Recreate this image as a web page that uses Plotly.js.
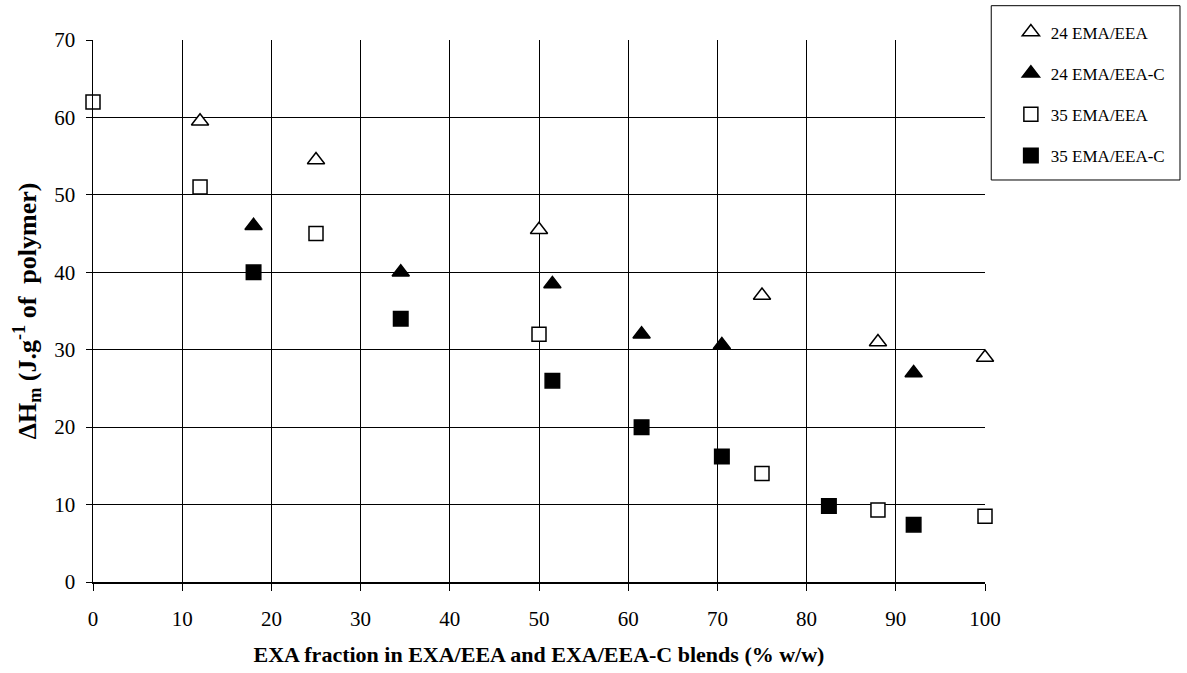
<!DOCTYPE html>
<html>
<head>
<meta charset="utf-8">
<script src="https://cdn.plot.ly/plotly-3.0.1.min.js"></script>
<style>html,body{margin:0;padding:0;background:#fff;}#chart{width:1187px;height:673px;}</style>
</head>
<body>
<div id="chart"></div>
<script>
// Data
const seriesNames = ["24 EMA/EEA", "24 EMA/EEA-C", "35 EMA/EEA", "35 EMA/EEA-C"];

const x24 = [12, 25, 50, 75, 88, 100];
const y24 = [59.5, 54.5, 45.5, 37, 31, 29];

const x24C = [18, 34.5, 51.5, 61.5, 70.5, 92];
const y24C = [46, 40, 38.5, 32, 30.6, 27];

const x35 = [0, 12, 25, 50, 75, 88, 100];
const y35 = [62, 51, 45, 32, 14, 9.3, 8.5];

const x35C = [18, 34.5, 51.5, 61.5, 70.5, 82.5, 92];
const y35C = [40, 34, 26, 20, 16.2, 9.8, 7.4];

const xTickVals = [0, 10, 20, 30, 40, 50, 60, 70, 80, 90, 100];
const yTickVals = [0, 10, 20, 30, 40, 50, 60, 70];

const serif = "'Liberation Serif', 'Times New Roman', Times, serif";

function mk(x, y, name, symbol, fill, size, group) {
  return {
    x: x, y: y, name: name, type: "scatter", mode: "markers",
    legendgroup: group, cliponaxis: false,
    marker: {symbol: symbol, size: size, color: fill, line: {color: "#000", width: 1.5}}
  };
}

const traces = [
  mk(x24, y24, seriesNames[0], "triangle-up", "#fff", 15, "g1"),
  mk(x24C, y24C, seriesNames[1], "triangle-up", "#000", 15, "g2"),
  mk(x35, y35, seriesNames[2], "square", "#fff", 14, "g3"),
  mk(x35C, y35C, seriesNames[3], "square", "#000", 14.5, "g4")
];

const layout = {
  width: 1187, height: 673,
  margin: {l: 93, r: 202, t: 40, b: 91},
  paper_bgcolor: "#fff", plot_bgcolor: "#fff",
  font: {family: serif, color: "#000", size: 21},
  showlegend: true,
  legend: {
    x: 1.029, xanchor: "left", y: 1.047, yanchor: "top",
    bgcolor: "rgba(0,0,0,0)", borderwidth: 0,
    font: {family: serif, size: 17, color: "#000"},
    tracegroupgap: 16, itemwidth: 30
  },
  xaxis: {
    range: [0, 100], tickvals: xTickVals, ticks: "outside", ticklen: 7, tickcolor: "#000",
    showline: true, linecolor: "#000", linewidth: 1.5, mirror: false,
    showgrid: true, gridcolor: "#000", gridwidth: 1, zeroline: false,
    tickfont: {family: serif, size: 21}, ticklabelstandoff: 10,
    title: {text: "<b>EXA fraction in EXA/EEA and EXA/EEA-C blends (% w/w)</b>", font: {family: serif, size: 22}, standoff: 17}
  },
  yaxis: {
    range: [0, 70], tickvals: yTickVals, ticks: "outside", ticklen: 6, tickcolor: "#000",
    showline: true, linecolor: "#000", linewidth: 1.5,
    showgrid: true, gridcolor: "#000", gridwidth: 1, zeroline: false,
    tickfont: {family: serif, size: 21}, ticklabelstandoff: 6,
    title: {text: "<b>ΔH<sub>m</sub> (J.g<sup>-1</sup> of  polymer)</b>", font: {family: serif, size: 26}, standoff: 10}
  },
  shapes: [{
    type: "rect", xref: "paper", yref: "paper",
    x0: 1.007, x1: 1.2186, y0: 0.7417, y1: 1.0633,
    line: {color: "#000", width: 1}, fillcolor: "rgba(0,0,0,0)", layer: "above"
  }]
};

Plotly.newPlot("chart", traces, layout, {displayModeBar: false, staticPlot: true});
</script>
</body>
</html>
